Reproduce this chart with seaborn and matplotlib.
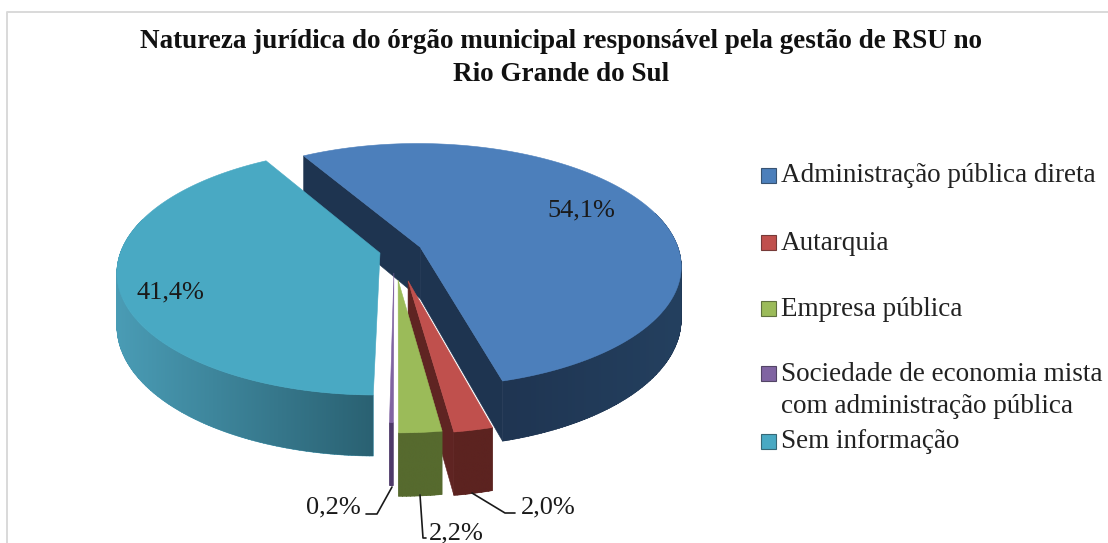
import numpy as np
import matplotlib
matplotlib.use("Agg")
import matplotlib.pyplot as plt
from matplotlib.patches import Polygon, Rectangle, PathPatch
from matplotlib.path import Path
from matplotlib.lines import Line2D
import seaborn as sns

# ---- data ----
categories = ["Administração pública direta", "Autarquia", "Empresa pública",
              "Sociedade de economia mista\ncom administração pública", "Sem informação"]
values = [54.1, 2.0, 2.2, 0.2, 41.4]
value_labels = ["54,1%", "2,0%", "2,2%", "0,2%", "41,4%"]
title = ("Natureza jurídica do órgão municipal responsável pela gestão de RSU no\n"
         "Rio Grande do Sul")

# ---- style ----
top_colors = ["#4c7fbb", "#c0504d", "#9bbb59", "#8064a2", "#49a9c3"]
rim_left = ["#1f3552", "#5c2320", "#566a2e", "#4e3a6a", "#4a9cb5"]
rim_right = ["#24405f", "#5c2320", "#566a2e", "#4e3a6a", "#2a6172"]
face_colors = ["#1e3450", "#5f2422", "#566a2e", "#4e3a6a", "#2a6172"]
offset_u = [0.078, 0.030, -0.007, -0.023, -0.077]
offset_v = [0.058, -0.215, -0.210, -0.153, 0.008]
# painter's order: a slice's sides and its top may sit at different levels
side_z = [10, 18, 24, 22, 14]
top_z = [12, 30, 26, 23, 16]
START_ANGLE = -30.0
CX, CY, RX, RY, PERSP, DEPTH = 400.0, 254.0, 260.0, 121.0, 0.15, 52.0
FONT = "Liberation Serif"

sns.set_theme(style="white")
plt.rcParams["font.family"] = [FONT, "DejaVu Sans"]

fig = plt.figure(figsize=(11.08, 5.43), dpi=100, facecolor="white")
ax = fig.add_axes([0, 0, 1, 1])
ax.axis("off")


def project(u, v, down=0.0):
    s = 1.0 / (1.0 + PERSP * v)
    return CX + RX * u * s, CY - RY * v * s + DEPTH * s * down


def poly(points, color, z):
    p = Polygon(points, closed=True, facecolor=color, edgecolor=color, linewidth=0.4, zorder=z)
    ax.add_patch(p)
    return p


def strip_patch(upper, lower, color, z):
    """Rim strip as quads of one winding, so folds at the silhouette stay filled."""
    parts = []
    for k in range(len(upper) - 1):
        q = np.array([upper[k], upper[k + 1], lower[k + 1], lower[k]])
        x, y = q[:, 0], q[:, 1]
        if np.dot(x, np.roll(y, -1)) - np.dot(y, np.roll(x, -1)) < 0:
            q = q[::-1]
        parts.append(Path(np.vstack([q, q[0]]), closed=True))
    patch = PathPatch(Path.make_compound_path(*parts), facecolor=color, edgecolor=color,
                      linewidth=0.4, zorder=z)
    ax.add_patch(patch)
    return patch


edges = START_ANGLE + np.concatenate([[0.0], np.cumsum(values)]) * 3.6

for i in range(len(values)):
    a0, a1 = edges[i], edges[i + 1]
    n = max(4, int((a1 - a0) * 1.5))
    th = np.radians(np.linspace(a0, a1, n + 1))
    us = offset_u[i] + np.sin(th)
    vs = offset_v[i] + np.cos(th)
    u0, v0 = offset_u[i], offset_v[i]

    # only the cut faces turned clearly towards the viewer are drawn
    if np.sin(np.radians(a0)) < -0.1:
        poly([project(u0, v0), project(us[0], vs[0]), project(us[0], vs[0], 1), project(u0, v0, 1)],
             face_colors[i], side_z[i])
    if np.sin(np.radians(a1)) > 0.1:
        poly([project(u0, v0), project(us[-1], vs[-1]), project(us[-1], vs[-1], 1), project(u0, v0, 1)],
             face_colors[i], side_z[i])

    # outer rim: front part, one smooth left-to-right shade clipped to the strip
    front = np.cos(th) <= 0.3
    if front.sum() >= 2:
        upper = [project(u, v) for u, v in zip(us[front], vs[front])]
        lower = [project(u, v, 1) for u, v in zip(us[front], vs[front])]
        clip = strip_patch(upper, lower, rim_left[i], side_z[i])
        xs = [p[0] for p in upper + lower]
        ys = [p[1] for p in upper + lower]
        cmap = sns.blend_palette([rim_left[i], rim_right[i]], as_cmap=True)
        im = ax.imshow(np.linspace(0, 1, 256)[None, :], cmap=cmap, aspect="auto",
                       extent=(min(xs), max(xs), max(ys), min(ys)), zorder=side_z[i] + 1)
        im.set_clip_path(clip)

    # top face
    poly([project(u0, v0)] + [project(u, v) for u, v in zip(us, vs)], top_colors[i], top_z[i])

ax.set_xlim(0, 1108)
ax.set_ylim(543, 0)

# ---- chart frame ----
ax.add_line(Line2D([7, 7, 1108], [543, 12, 12], color="#d9d9d9", lw=1.4, zorder=1))

# ---- title ----
ax.text(561, 58, title, ha="center", va="center", fontsize=19.5, fontweight="bold",
        color="#111111", linespacing=1.38, zorder=50)

# ---- data labels ----
label_pos = [(581, 210), (548, 507), (456, 533), (333, 507), (170, 292)]
for text, (x, y) in zip(value_labels, label_pos):
    ax.text(x, y, text, ha="center", va="center", fontsize=19, color="#1a1a1a", zorder=50)

leader_x = [[472, 505, 515], [420, 423, 426], [392, 377, 366]]
leader_y = [[493, 513, 513], [495, 538, 538], [487, 514, 514]]
for lx, ly in zip(leader_x, leader_y):
    ax.add_line(Line2D(lx, ly, color="#1a1a1a", lw=1.2, zorder=49))

# ---- legend ----
legend_y = [175, 242, 308, 373, 441]
for name, col, y in zip(categories, top_colors, legend_y):
    ax.add_patch(Rectangle((761, y - 7.5), 15, 15, facecolor=col,
                           edgecolor=sns.dark_palette(col, 3)[1], lw=0.8, zorder=50))
    extra = name.count("\n") * 16.5
    ax.text(781, y + 1 + extra, name, ha="left", va="center", fontsize=19.55, color="#222222",
            linespacing=1.4, zorder=50)

fig.savefig("out.png", dpi=100)
